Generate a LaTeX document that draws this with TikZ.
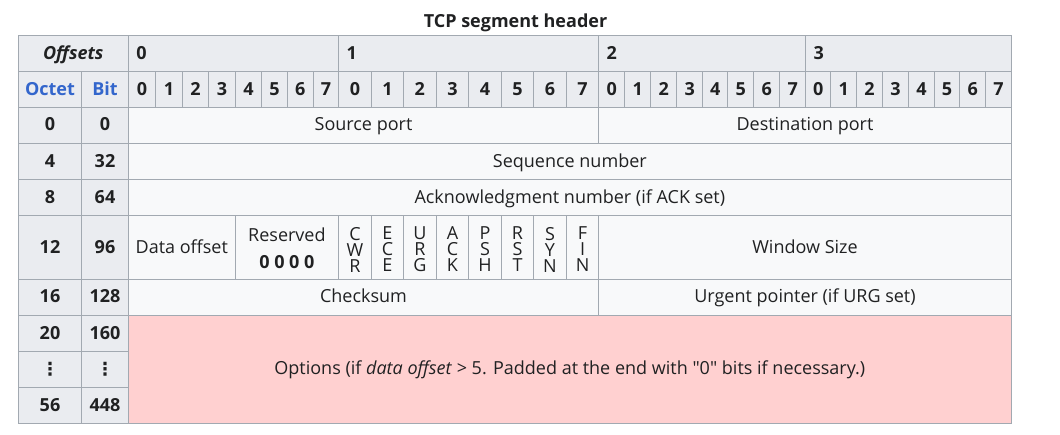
\documentclass[tikz,border=0pt]{standalone}
\usepackage{fontspec}
\setmainfont{Open Sans}[Ligatures=TeXOff]
\newfontfamily\dejavu{DejaVu Sans}
\definecolor{hdr}{HTML}{EAECF0}
\definecolor{bodyc}{HTML}{F8F9FA}
\definecolor{brd}{HTML}{A2A9B1}
\definecolor{ink}{HTML}{202122}
\definecolor{lnk}{HTML}{3366CC}
\definecolor{optc}{HTML}{FFD0D0}
\newcommand\fsz{\fontsize{18}{22}\selectfont}
\newcommand\flagfont{\fontsize{18}{16}\selectfont}
\newcommand\resfont{\fontsize{18}{27.6}\selectfont}
\newcommand\tcell[7]{\node[#6, minimum width={(#3-#2)*1pt}, minimum height={(#5-#4)*1pt}] (#1) at ({(#2+#3)/2},{(#4+#5)/2}) {#7};}
\tikzset{
  cellb/.style={draw=brd, line width=1pt, inner sep=0pt, outer sep=0pt, text=ink, font=\fsz, rectangle},
  cell/.style={cellb, text height=11pt, text depth=0pt},
  hd/.style={cell, fill=hdr, font=\fsz\bfseries},
  bd/.style={cell, fill=bodyc},
  emptycell/.style={cellb, fill=bodyc},
  stack/.style={inner sep=0pt, outer sep=0pt, text=ink, align=center, anchor=north},
  opt/.style={cell, fill=optc},
  lnkhd/.style={hd, text=lnk},
  bytehd/.style={hd, text width={(#1-16)*1pt}, align=left},
  ttl/.style={inner sep=0pt, text=ink, font=\fsz\bfseries, text height=12.85pt, text depth=0pt}
}
\begin{document}
\begin{tikzpicture}[x=1pt,y=-1pt]
\useasboundingbox (0,0) rectangle (1060,434);
\fill[white] (0,0) rectangle (1060,434);
\node[ttl] (title) at (515.5,21.5) {TCP segment header};
% header row
\tcell{offs}{18.3}{128.3}{35.7}{71.7}{hd}{\itshape Offsets}
\tcell{by0}{128.3}{338.5}{35.7}{71.7}{bytehd=210.2}{0}
\tcell{by1}{338.5}{598.7}{35.7}{71.7}{bytehd=260.2}{1}
\tcell{by2}{598.7}{805.7}{35.7}{71.7}{bytehd=207}{2}
\tcell{by3}{805.7}{1011.3}{35.7}{71.7}{bytehd=205.6}{3}
% bit row
\tcell{oct}{18.3}{81.7}{71.7}{107.3}{lnkhd}{Octet}
\tcell{bit}{81.7}{128.3}{71.7}{107.3}{lnkhd}{Bit}
\foreach \a/\b [count=\i from 0] in {128.3/155.7, 155.7/182.3, 182.3/208.7, 208.7/235.3, 235.3/261.7, 261.7/287.3, 287.3/313.3, 313.3/338.5,
  338.5/371.5, 371.5/403.5, 403.5/436.2, 436.2/468.7, 468.7/501.5, 501.5/533.5, 533.5/566.5, 566.5/598.7,
  598.7/624.7, 624.7/650.7, 650.7/676.7, 676.7/702.7, 702.7/727.7, 727.7/753.7, 753.7/779.7, 779.7/805.7,
  805.7/830.7, 830.7/856.7, 856.7/882.3, 882.3/908.7, 908.7/934.3, 934.3/959.7, 959.7/985.7, 985.7/1011.3}{
  \pgfmathtruncatemacro\k{mod(\i,8)}
  \tcell{b\i}{\a}{\b}{71.7}{107.3}{hd}{\k}
}
% row 0
\tcell{o0}{18.3}{81.7}{107.3}{143.5}{hd}{0}
\tcell{t0}{81.7}{128.3}{107.3}{143.5}{hd}{0}
\tcell{srcp}{128.3}{598.7}{107.3}{143.5}{bd}{Source port}
\tcell{dstp}{598.7}{1011.3}{107.3}{143.5}{bd}{Destination port}
% row 4
\tcell{o4}{18.3}{81.7}{143.5}{179.6}{hd}{4}
\tcell{t32}{81.7}{128.3}{143.5}{179.6}{hd}{32}
\tcell{seq}{128.3}{1011.3}{143.5}{179.6}{bd}{Sequence number}
% row 8
\tcell{o8}{18.3}{81.7}{179.6}{215.7}{hd}{8}
\tcell{t64}{81.7}{128.3}{179.6}{215.7}{hd}{64}
\tcell{ack}{128.3}{1011.3}{179.6}{215.7}{bd}{Acknowledgment number (if ACK set)}
% row 12
\tcell{o12}{18.3}{81.7}{215.7}{279.3}{hd}{12}
\tcell{t96}{81.7}{128.3}{215.7}{279.3}{hd}{96}
\tcell{doff}{128.3}{235.3}{215.7}{279.3}{bd}{Data offset}
\tcell{resv}{235.3}{338.5}{215.7}{279.3}{emptycell}{}
\node[stack, font=\resfont] (tresv) at ([yshift=-11.8pt]resv.north) {Reserved\\\textbf{0 0 0 0}};
\foreach \n/\a/\b/\t in {fcwr/338.5/371.5/{C\\W\\R}, fece/371.5/403.5/{E\\C\\E}, furg/403.5/436.2/{U\\R\\G},
  fack/436.2/468.7/{A\\C\\K}, fpsh/468.7/501.5/{P\\S\\H}, frst/501.5/533.5/{R\\S\\T},
  fsyn/533.5/566.5/{S\\Y\\N}, ffin/566.5/598.7/{F\\I\\N}}{
  \tcell{\n}{\a}{\b}{215.7}{279.3}{emptycell}{}
  \node[stack, font=\flagfont] (t\n) at ([yshift=-11.3pt]\n.north) {\t};
}
\tcell{win}{598.7}{1011.3}{215.7}{279.3}{bd}{Window Size}
% row 16
\tcell{o16}{18.3}{81.7}{279.3}{315.3}{hd}{16}
\tcell{t128}{81.7}{128.3}{279.3}{315.3}{hd}{128}
\tcell{chk}{128.3}{598.7}{279.3}{315.3}{bd}{Checksum}
\tcell{urg}{598.7}{1011.3}{279.3}{315.3}{bd}{Urgent pointer (if URG set)}
% rows 20..56
\tcell{o20}{18.3}{81.7}{315.3}{351.7}{hd}{20}
\tcell{t160}{81.7}{128.3}{315.3}{351.7}{hd}{160}
\tcell{odots}{18.3}{81.7}{351.7}{387.7}{hd}{\dejavu\bfseries ⋮}
\tcell{tdots}{81.7}{128.3}{351.7}{387.7}{hd}{\dejavu\bfseries ⋮}
\tcell{o56}{18.3}{81.7}{387.7}{423.3}{hd}{56}
\tcell{t448}{81.7}{128.3}{387.7}{423.3}{hd}{448}
\tcell{opts}{128.3}{1011.3}{315.3}{423.3}{opt}{Options (if \textit{data offset} > 5. Padded at the end with "0" bits if necessary.)}
\end{tikzpicture}
\end{document}
